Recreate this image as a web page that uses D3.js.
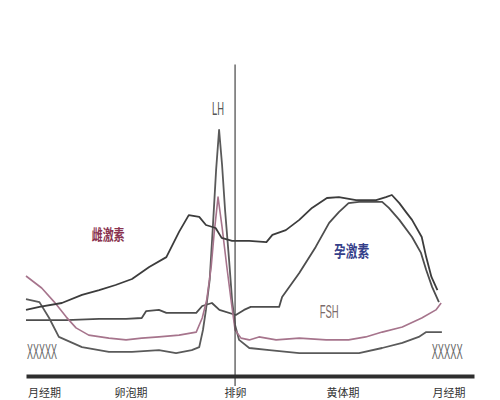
<!DOCTYPE html>
<html>
<head>
<meta charset="utf-8">
<script src="https://cdn.jsdelivr.net/npm/d3@7"></script>
<style>
  html, body { margin: 0; padding: 0; background: #fff; }
  svg { display: block; }
</style>
</head>
<body>
<div id="chart"></div>
<script>
// cycle phases along the bottom (day of cycle)
const phaseDays = [1.2, 7, 14, 21.2, 28.3];
const phaseLabels = ['月经期', '卵泡期', '排卵', '黄体期', '月经期'];
const ovulationDay = 14;

// [day, relative level]
const estrogen = [[0,16.7],[0.9,17.7],[2.4,19],[3.75,21.7],[4.9,23.3],[6,25],[7.1,27],[8.25,31],[9.4,34.3],
  [10.25,42.7],[10.9,48.3],[11.6,47.7],[12.05,45],[12.7,44],[13.1,40.7],[13.8,39.7],[14.95,39.7],[16.1,39.3],
  [16.5,41.7],[17.4,43.3],[18.3,46.7],[19.15,50.7],[20.15,54],[20.95,54.3],[22.1,53.3],[23.45,53.3],[24.1,54.3],
  [24.5,55],[25,52.3],[25.45,49.3],[25.85,46.7],[26.5,41],[26.8,34.3],[27.15,27.7],[27.55,23.3]];

const progesterone = [[0,13.3],[2.7,13.3],[4.9,13.7],[6.7,13.7],[7.75,14],[8.05,16.3],[8.9,16.7],[9.4,15.7],
  [11.4,15.7],[11.8,18],[12.45,19],[12.95,16.7],[14.05,15],[14.6,16.7],[15.05,17.7],[16.95,17.7],[17.15,21],
  [18.3,29],[19.4,37.7],[20.3,45.7],[20.95,49.3],[21.6,52.3],[22.3,52.7],[23.85,52.7],[24.3,50.7],[25,46.7],
  [25.85,41],[26.45,35.7],[26.8,30],[27.2,24.3],[27.65,19.3]];

const lh = [[0,20.3],[0.9,19.3],[1.55,14],[2.2,7.7],[3.75,4.3],[5.55,2.7],[7.1,2.7],[8.9,3.3],[10.05,2.3],
  [11.1,3.3],[11.6,4.3],[11.85,10],[12.05,16.7],[12.3,26.7],[12.5,43.3],[12.73,63.3],[12.93,76.7],[13.13,65],
  [13.33,50],[13.6,33.3],[13.8,20],[14,11.7],[14.27,6.7],[14.95,4],[16.3,3.3],[18.3,2.3],[20.5,2.3],[22.3,2.3],
  [23.85,4],[25.2,5.7],[26.3,7.7],[26.8,9.3],[27.85,9.3]];

const fsh = [[0,28],[1.05,24],[1.9,19.3],[2.7,14.3],[3.35,10.7],[4.2,8.3],[5.55,7.3],[6.7,6.7],[7.75,7.3],
  [8.9,7.7],[10.25,8.3],[11.4,9.3],[11.8,14],[12.1,20],[12.4,31],[12.6,42.3],[12.86,54.3],[13.13,44.3],
  [13.45,31],[13.73,20],[14,10],[14.4,7.3],[14.95,6.7],[15.6,7.7],[16.75,6.7],[18.3,7.3],[20.1,6.7],[21.6,6.7],
  [22.75,7.7],[23.85,9.3],[25.2,11],[26.5,14],[27.45,16.7],[27.8,19]];

const width = 500, height = 400;
const svg = d3.select('#chart').append('svg').attr('width', width).attr('height', height);

const x = d3.scaleLinear().domain([0, 30]).range([26, 474]);
const y = d3.scaleLinear().domain([0, 100]).range([360, 60]);
const axisY = 376;

const line = d3.line().x(d => x(d[0])).y(d => y(d[1]));

const series = [
  { values: progesterone, color: '#4d4d4d', w: 1.8 },
  { values: lh, color: '#5a5a5a', w: 1.8 },
  { values: fsh, color: '#a6748c', w: 1.6 },
  { values: estrogen, color: '#3c3c3c', w: 1.8 }
];

svg.selectAll('path.hormone').data(series).enter().append('path')
  .attr('class', 'hormone')
  .attr('d', d => line(d.values))
  .attr('fill', 'none')
  .attr('stroke', d => d.color)
  .attr('stroke-width', d => d.w)
  .attr('stroke-linejoin', 'round');

// ovulation marker
svg.append('line')
  .attr('x1', x(ovulationDay)).attr('x2', x(ovulationDay))
  .attr('y1', y(98.5)).attr('y2', axisY + 10)
  .attr('stroke', '#444').attr('stroke-width', 1.2);

// phase axis
const axis = svg.append('g').attr('transform', `translate(0,${axisY})`)
  .call(d3.axisBottom(x).tickValues(phaseDays).tickFormat((d, i) => phaseLabels[i])
    .tickSize(0).tickPadding(13));
axis.select('.domain').attr('stroke', '#2e2e2e').attr('stroke-width', 4);
axis.selectAll('text')
  .attr('font-family', '"Noto Sans CJK SC", sans-serif')
  .attr('font-size', 11).attr('fill', '#333');

// labels, squeezed horizontally like the original
const label = (txt, d, v, opts) => {
  const t = svg.append('text')
    .attr('text-anchor', 'middle')
    .attr('font-family', opts.font || '"Liberation Sans", sans-serif')
    .attr('font-size', opts.size)
    .attr('font-weight', opts.weight || 'normal')
    .attr('fill', opts.color)
    .text(txt);
  const sx = opts.len / t.node().getComputedTextLength();
  t.attr('transform', `translate(${x(d)},${y(v)}) scale(${sx},1)`);
};

label('LH', 12.86, 81.7, { size: 18, color: '#555', len: 12 });
label('雌激素', 5.5, 40, { size: 15, color: '#8a3350', len: 33, weight: 'bold', font: '"Noto Sans CJK SC", sans-serif' });
label('孕激素', 21.8, 34.3, { size: 16, color: '#35408a', len: 35, weight: 'bold', font: '"Noto Sans CJK SC", sans-serif' });
label('FSH', 20.3, 14, { size: 18, color: '#7a6a6a', len: 19 });
label('XXXXX', 1.07, 0.3, { size: 22, color: '#666', len: 30 });
label('XXXXX', 28.2, 0.3, { size: 22, color: '#666', len: 31 });
</script>
</body>
</html>
